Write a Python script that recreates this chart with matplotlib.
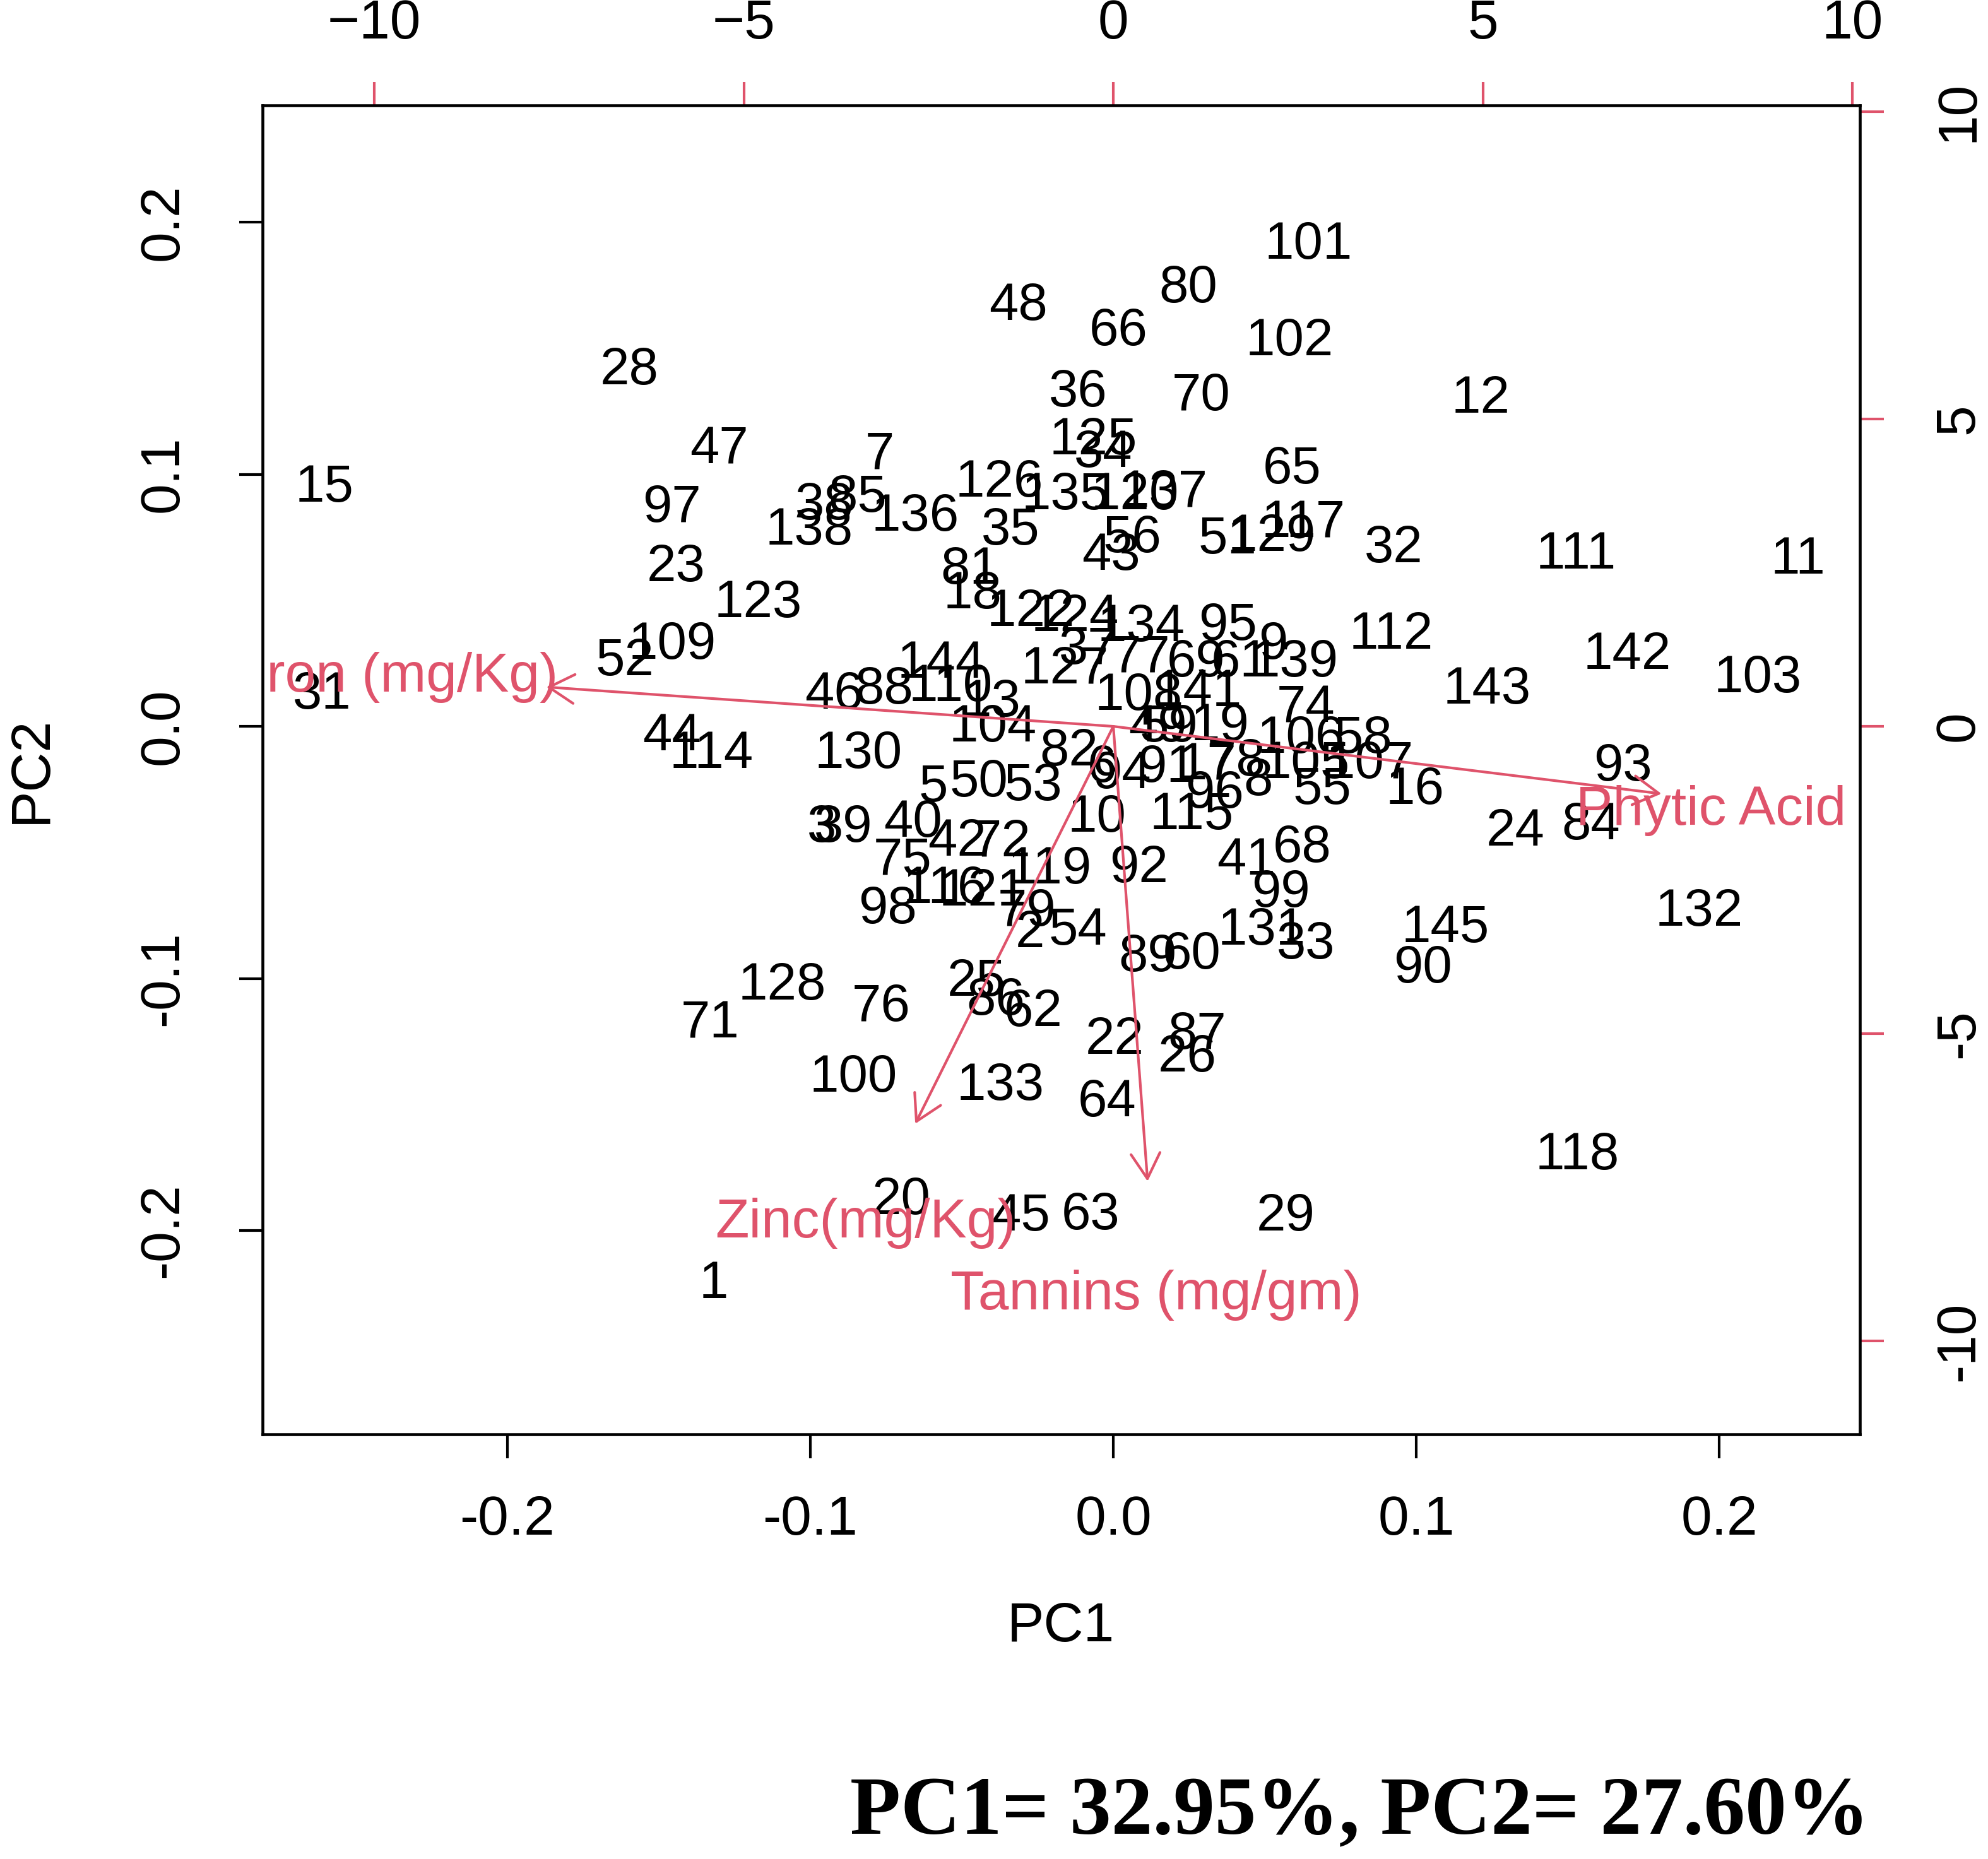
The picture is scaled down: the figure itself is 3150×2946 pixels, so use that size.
import numpy as np
import matplotlib
matplotlib.use("Agg")
from matplotlib import pyplot as plt

plt.rcParams['font.family'] = ['Liberation Sans', 'DejaVu Sans']

# sample scores (PC1, PC2)
labels = ['101', '80', '48', '66', '102', '28', '36', '70', '12', '125',
          '34', '47', '7', '15', '65', '126', '135', '120', '137', '97',
          '38', '85', '136', '138', '35', '56', '43', '51', '129', '117',
          '32', '111', '11', '23', '81', '18', '123', '122', '124', '134',
          '95', '112', '109', '52', '142', '37', '127', '77', '69', '61',
          '9', '139', '143', '103', '46', '88', '144', '110', '13', '74',
          '31', '108', '141', '104', '44', '114', '130', '82', '49', '59',
          '19', '106', '58', '94', '91', '17', '78', '6', '105', '107',
          '8', '96', '55', '16', '93', '5', '50', '53', '10', '115',
          '24', '84', '39', '3', '40', '68', '41', '99', '92', '42',
          '72', '75', '119', '116', '121', '98', '132', '79', '2', '54',
          '131', '145', '33', '89', '60', '90', '128', '25', '86', '62',
          '71', '76', '22', '87', '26', '100', '133', '64', '118', '20',
          '45', '63', '29', '1']
pc1 = [0.0644, 0.0247, -0.0314, 0.0017, 0.0582, -0.1598, -0.0117, 0.0289, 0.1213, -0.0067,
       -0.0033, -0.1301, -0.0770, -0.2603, 0.0590, -0.0377, -0.0159, 0.0071, 0.0167, -0.1456,
       -0.0954, -0.0845, -0.0653, -0.1004, -0.0339, 0.0063, -0.0008, 0.0377, 0.0523, 0.0628,
       0.0925, 0.1527, 0.2259, -0.1444, -0.0473, -0.0464, -0.1172, -0.0272, -0.0126, 0.0092,
       0.0377, 0.0916, -0.1456, -0.1611, 0.1695, -0.0084, -0.0159, 0.0092, 0.0272, 0.0418,
       0.0527, 0.0598, 0.1234, 0.2126, -0.0921, -0.0757, -0.0569, -0.0536, -0.0402, 0.0636,
       -0.2611, 0.0084, 0.0280, -0.0397, -0.1456, -0.1326, -0.0841, -0.0146, 0.0147, 0.0184,
       0.0351, 0.0619, 0.0824, 0.0029, 0.0176, 0.0310, 0.0406, -0.0038, 0.0636, 0.0845,
       0.0477, 0.0335, 0.0690, 0.0996, 0.1682, -0.0594, -0.0444, -0.0264, -0.0054, 0.0259,
       0.1326, 0.1577, -0.0891, -0.0962, -0.0662, 0.0623, 0.0439, 0.0552, 0.0084, -0.0515,
       -0.0368, -0.0695, -0.0209, -0.0556, -0.0431, -0.0745, 0.1933, -0.0285, -0.0276, -0.0117,
       0.0490, 0.1096, 0.0636, 0.0113, 0.0259, 0.1021, -0.1092, -0.0452, -0.0389, -0.0264,
       -0.1331, -0.0766, 0.0004, 0.0276, 0.0243, -0.0858, -0.0372, -0.0021, 0.1531, -0.0699,
       -0.0305, -0.0075, 0.0569, -0.1318]
pc2 = [0.1909, 0.1738, 0.1668, 0.1567, 0.1526, 0.1411, 0.1325, 0.1310, 0.1300, 0.1134,
       0.1083, 0.1098, 0.1078, 0.0947, 0.1018, 0.0967, 0.0917, 0.0917, 0.0927, 0.0866,
       0.0877, 0.0907, 0.0831, 0.0776, 0.0776, 0.0746, 0.0675, 0.0741, 0.0751, 0.0806,
       0.0705, 0.0680, 0.0660, 0.0630, 0.0620, 0.0524, 0.0489, 0.0453, 0.0433, 0.0393,
       0.0398, 0.0363, 0.0322, 0.0257, 0.0282, 0.0302, 0.0227, 0.0272, 0.0252, 0.0252,
       0.0322, 0.0252, 0.0146, 0.0191, 0.0126, 0.0146, 0.0247, 0.0156, 0.0096, 0.0071,
       0.0126, 0.0121, 0.0136, -0.0005, -0.0040, -0.0111, -0.0111, -0.0101, -0.0005, -0.0005,
       0.0000, -0.0050, -0.0050, -0.0191, -0.0166, -0.0156, -0.0141, -0.0166, -0.0151, -0.0151,
       -0.0217, -0.0267, -0.0252, -0.0252, -0.0161, -0.0242, -0.0222, -0.0237, -0.0363, -0.0353,
       -0.0418, -0.0393, -0.0403, -0.0403, -0.0383, -0.0484, -0.0534, -0.0660, -0.0564, -0.0458,
       -0.0458, -0.0534, -0.0569, -0.0645, -0.0655, -0.0725, -0.0736, -0.0736, -0.0821, -0.0811,
       -0.0811, -0.0801, -0.0866, -0.0917, -0.0907, -0.0962, -0.1028, -0.1013, -0.1088, -0.1134,
       -0.1179, -0.1113, -0.1244, -0.1224, -0.1315, -0.1395, -0.1426, -0.1491, -0.1703, -0.1879,
       -0.1945, -0.1940, -0.1945, -0.2212]

# variable loadings (top / right axis units)
var_names = ['Iron (mg/Kg)', 'Phytic Acid (mg/g)', 'Zinc(mg/Kg)', 'Tannins (mg/gm)']
load1 = [-9.59, 9.27, -3.35, 0.58]
load2 = [0.80, -1.37, -8.08, -9.25]

ratio = 41.0
red = '#DF536B'
lim = (-0.2808, 0.2464)
fs = 21

fig = plt.figure(figsize=(10.5, 9.82), dpi=300)
ax = fig.add_axes([0.132, 0.2285, 0.8036, 0.7149])
ax.set_xlim(lim)
ax.set_ylim(lim)

for lab, x, y in zip(labels, pc1, pc2):
    ax.text(x, y, lab, ha='center', va='center', fontsize=20, color='black', clip_on=True)

# arrows go to 0.8 of the loading, label sits at the loading (like R biplot)
for name, a, b in zip(var_names, load1, load2):
    ax.annotate('', xy=(0.8 * a / ratio, 0.8 * b / ratio), xytext=(0, 0),
                arrowprops=dict(arrowstyle='->, head_length=0.4, head_width=0.23',
                                color=red, lw=1.0, shrinkA=0, shrinkB=0, mutation_scale=24))
    ax.text(a / ratio, b / ratio, name, ha='center', va='center', fontsize=fs,
            color=red, clip_on=True)

ticks = [-0.2, -0.1, 0.0, 0.1, 0.2]
ax.set_xticks(ticks)
ax.set_yticks(ticks)
ax.set_xticklabels(['-0.2', '-0.1', '0.0', '0.1', '0.2'])
ax.set_yticklabels(['-0.2', '-0.1', '0.0', '0.1', '0.2'], rotation=90, va='center')
ax.tick_params(axis='x', length=9, width=1, labelsize=fs, pad=14)
ax.tick_params(axis='y', length=9, width=1, labelsize=fs, pad=19)
for s in ax.spines.values():
    s.set_linewidth(1.1)

top = ax.secondary_xaxis('top', functions=(lambda v: v * ratio, lambda v: v / ratio))
top.set_xticks([-10, -5, 0, 5, 10])
top.tick_params(length=9, width=1, color=red, labelcolor='black', labelsize=fs, pad=12)
top.spines['top'].set_visible(False)

right = ax.secondary_yaxis('right', functions=(lambda v: v * ratio, lambda v: v / ratio))
right.set_yticks([-10, -5, 0, 5, 10])
right.set_yticklabels(['-10', '-5', '0', '5', '10'], rotation=90, va='center')
right.tick_params(length=9, width=1, color=red, labelcolor='black', labelsize=fs, pad=19)
right.spines['right'].set_visible(False)

fig.text(0.5338, 0.1248, 'PC1', ha='center', va='center', fontsize=fs)
fig.text(0.016, 0.5860, 'PC2', ha='center', va='center', fontsize=fs, rotation=90)

fig.text(0.684, 0.0246, 'PC1= 32.95%, PC2= 27.60%', ha='center', va='center',
         fontsize=31.5, fontweight='bold', family=['Liberation Serif', 'DejaVu Serif'])

fig.savefig('out.png', dpi=300)
